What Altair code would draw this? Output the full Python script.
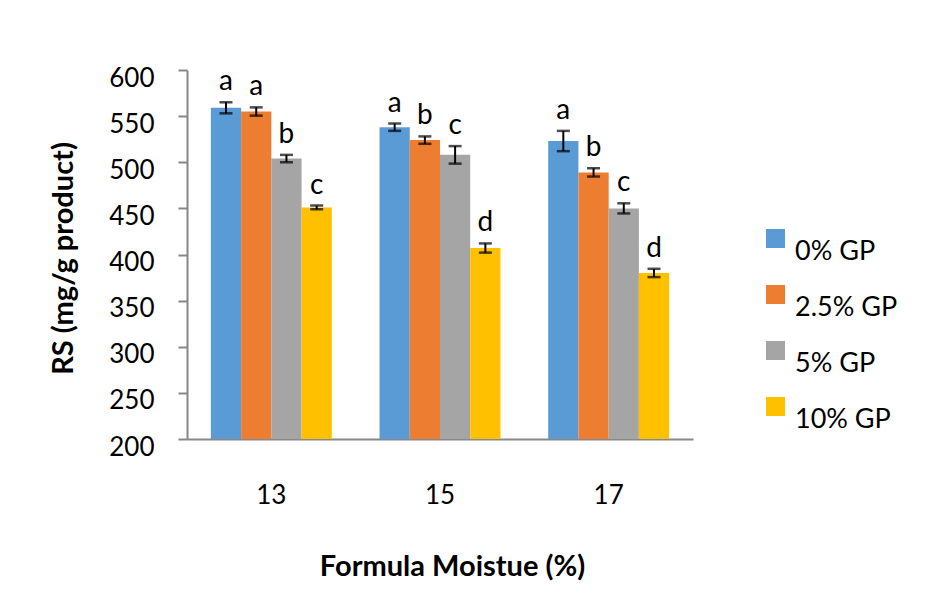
import altair as alt
import pandas as pd

categories = ["13", "15", "17"]
series = ["0% GP", "2.5% GP", "5% GP", "10% GP"]
colors = ["#5B9BD5", "#ED7D31", "#A5A5A5", "#FFC000"]

rs_0 = [559, 538, 523]
rs_25 = [555, 524, 489]
rs_5 = [504, 508, 450]
rs_10 = [451, 407, 380]

err_0 = [6, 4, 11]
err_25 = [4.5, 4, 4.5]
err_5 = [4, 9.5, 5.5]
err_10 = [2, 5, 4.5]

let_0 = ["a", "a", "a"]
let_25 = ["a", "b", "b"]
let_5 = ["b", "c", "c"]
let_10 = ["c", "d", "d"]

y_ticks = [200, 250, 300, 350, 400, 450, 500, 550, 600]

rows = []
for s, vals, errs, lets in zip(series, [rs_0, rs_25, rs_5, rs_10],
                               [err_0, err_25, err_5, err_10],
                               [let_0, let_25, let_5, let_10]):
    for c, v, e, l in zip(categories, vals, errs, lets):
        rows.append({"cat": c, "series": s, "value": v,
                     "low": v - e, "high": v + e, "letter": l})
df = pd.DataFrame(rows)

FONT = "Lato"

x_enc = alt.X("cat:N", sort=categories,
              scale=alt.Scale(paddingInner=0.283, paddingOuter=0.1415),
              axis=alt.Axis(title="Formula Moistue (%)", ticks=False,
                            labelAngle=0, labelFontSize=26, labelFont=FONT,
                            labelColor="#000", labelPadding=43,
                            labelBaseline="top",
                            domainColor="#888888", domainWidth=2,
                            titleFont=FONT, titleFontSize=29,
                            titleFontWeight="bold", titleColor="#000",
                            titleX=265, titleY=127, titleBaseline="middle",
                            titleAlign="center"))
xo_enc = alt.XOffset("series:N", sort=series,
                     scale=alt.Scale(paddingInner=0, paddingOuter=0))
y_scale = alt.Scale(domain=[200, 600], nice=False, zero=False)

bars = alt.Chart(df).mark_bar().encode(
    x=x_enc,
    xOffset=xo_enc,
    y=alt.Y("value:Q", scale=y_scale,
            axis=alt.Axis(title="RS (mg/g product)", values=y_ticks,
                          grid=False, tickSize=9, tickColor="#888888",
                          tickWidth=2, domainColor="#888888",
                          domainWidth=2, labelFontSize=26, labelFont=FONT,
                          labelColor="#000", labelPadding=24,
                          labelOffset=8,
                          titleFont=FONT, titleFontSize=29,
                          titleFontWeight="bold", titleColor="#000",
                          titleX=-124, titleY=188, titleAngle=-90,
                          titleBaseline="middle", titleAlign="center")),
    y2=alt.datum(200),
    color=alt.Color("series:N", sort=series,
                    scale=alt.Scale(domain=series, range=colors),
                    legend=alt.Legend(title=None, orient="none",
                                      legendX=575, legendY=155,
                                      symbolType="square", symbolSize=361,
                                      symbolStrokeWidth=0,
                                      labelFontSize=27, labelFont=FONT,
                                      labelColor="#000", labelOffset=6,
                                      rowPadding=16, labelBaseline="top")),
)

rule = alt.Chart(df).mark_rule(color="black", strokeWidth=2).encode(
    x=alt.X("cat:N", sort=categories),
    xOffset=xo_enc,
    y=alt.Y("low:Q", scale=y_scale),
    y2="high:Q",
)

cap_lo = alt.Chart(df).mark_tick(color="black", thickness=2.5, size=13).encode(
    x=alt.X("cat:N", sort=categories),
    xOffset=xo_enc,
    y=alt.Y("low:Q", scale=y_scale),
)
cap_hi = alt.Chart(df).mark_tick(color="black", thickness=2.5, size=13).encode(
    x=alt.X("cat:N", sort=categories),
    xOffset=xo_enc,
    y=alt.Y("high:Q", scale=y_scale),
)

letters = alt.Chart(df).mark_text(baseline="bottom", dy=-6, fontSize=28,
                                  font=FONT, color="#000").encode(
    x=alt.X("cat:N", sort=categories),
    xOffset=xo_enc,
    y=alt.Y("high:Q", scale=y_scale),
    text="letter:N",
)

chart = alt.layer(bars, rule, cap_lo, cap_hi, letters).properties(
    width=506, height=369,
    autosize=alt.AutoSizeParams(type="none"),
    padding={"left": 179, "top": 62, "right": 240, "bottom": 150},
).configure_view(stroke=None)

chart.save("out.html", embed_options={"renderer": "svg", "actions": False})
